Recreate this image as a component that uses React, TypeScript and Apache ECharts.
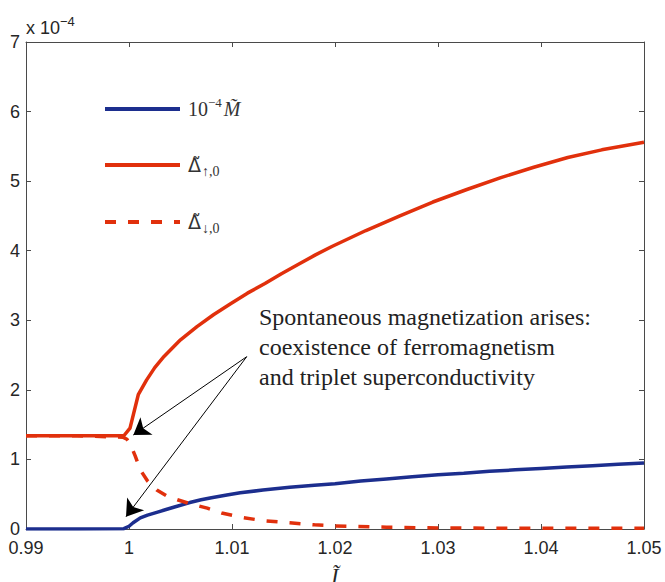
import React, { useEffect, useRef } from "react";
import * as echarts from "echarts";

// Δ↑,0 (solid red)
const upX = [0.99, 0.995, 0.9995, 1.0001, 1.0009, 1.0017, 1.0025, 1.0034, 1.005, 1.0066, 1.0082, 1.0099, 1.0115, 1.0132, 1.0148, 1.0165, 1.0181, 1.0197, 1.023, 1.0263, 1.0295, 1.0328, 1.0361, 1.0393, 1.0426, 1.0459, 1.05];
const upY = [1.34, 1.34, 1.34, 1.45, 1.93, 2.14, 2.32, 2.48, 2.72, 2.91, 3.08, 3.24, 3.39, 3.53, 3.67, 3.81, 3.94, 4.06, 4.29, 4.5, 4.7, 4.88, 5.05, 5.2, 5.34, 5.45, 5.56];

// 10^-4 M (blue)
const mX = [0.99, 0.995, 0.9995, 1.0, 1.0004, 1.0011, 1.0018, 1.0027, 1.0036, 1.0045, 1.0059, 1.007, 1.008, 1.0095, 1.0108, 1.013, 1.0156, 1.018, 1.02, 1.0225, 1.025, 1.0275, 1.03, 1.0325, 1.035, 1.0375, 1.04, 1.0425, 1.045, 1.0475, 1.05];
const mY = [0, 0, 0.005, 0.04, 0.09, 0.16, 0.2, 0.24, 0.28, 0.32, 0.38, 0.42, 0.45, 0.49, 0.52, 0.56, 0.6, 0.63, 0.65, 0.69, 0.72, 0.75, 0.78, 0.8, 0.83, 0.85, 0.87, 0.89, 0.91, 0.93, 0.95];

// Δ↓,0 (dashed red)
const dnX = [0.99, 0.995, 0.9994, 0.9998, 1.0001, 1.0006, 1.0011, 1.0018, 1.0027, 1.0036, 1.0047, 1.006, 1.0076, 1.009, 1.0108, 1.013, 1.0156, 1.018, 1.02, 1.025, 1.03, 1.035, 1.04, 1.045, 1.05];
const dnY = [1.34, 1.34, 1.32, 1.29, 1.23, 1.05, 0.85, 0.69, 0.56, 0.48, 0.42, 0.36, 0.3, 0.23, 0.17, 0.12, 0.09, 0.06, 0.045, 0.025, 0.015, 0.012, 0.01, 0.01, 0.01];

const xTicks = [0.99, 1.0, 1.01, 1.02, 1.03, 1.04, 1.05];
const yTicks = [0, 1, 2, 3, 4, 5, 6, 7];

// annotation arrow: common start and two tips (data coordinates)
const arrowStart = [1.01143, 2.477];
const arrowTips = [
  [1.00042, 1.351],
  [0.99971, 0.177],
];
const annotationLines = [
  "Spontaneous magnetization arises:",
  "coexistence of ferromagnetism",
  "and triplet superconductivity",
];

const BLUE = "#1c2e8e";
const RED = "#e1300c";
const TXT = "#262626";
const AX = "#4a4a4a";

const zip = (xs: number[], ys: number[]) => xs.map((x, i) => [x, ys[i]]);

export default function App() {
  const ref = useRef<HTMLDivElement>(null);
  useEffect(() => {
    const chart = echarts.init(ref.current!, null, { renderer: "svg" });
    const tickFont = { fontFamily: "Liberation Sans", fontSize: 18, color: TXT, lineHeight: 14 };
    const legendNames: Record<string, string> = {
      M: "{n|10}{sup|−4}{i|M̃}",
      up: "{d|Δ̃}{sub|↑,0}",
      dn: "{d|Δ̃}{sub|↓,0}",
    };
    const serif = "Liberation Serif";
    const option: any = {
      animation: false,
      backgroundColor: "#fff",
      grid: { left: 26, right: 21, top: 42, bottom: 53, containLabel: false, outerBoundsMode: "none" },
      legend: {
        orient: "vertical",
        left: 98,
        top: 91,
        itemWidth: 75,
        itemHeight: 30,
        itemGap: 32,
        data: ["M", "up", "dn"],
        itemStyle: { opacity: 0, borderWidth: 0 },
        lineStyle: { width: 4 },
        formatter: (name: string) => legendNames[name],
        textStyle: {
          color: TXT,
          padding: [0, 0, 0, 3],
          rich: {
            n: { fontFamily: serif, fontSize: 20, color: "#333", lineHeight: 26, verticalAlign: "middle" },
            d: { fontFamily: "DejaVu Sans", fontSize: 19, color: "#333", lineHeight: 26, verticalAlign: "middle" },
            i: { fontFamily: serif, fontStyle: "italic", fontSize: 20, color: "#333", lineHeight: 26, verticalAlign: "middle", padding: [0, 0, 0, 2] },
            sup: { fontFamily: serif, fontSize: 13, color: "#333", verticalAlign: "top", lineHeight: 13 },
            sub: { fontFamily: serif, fontSize: 14, color: "#333", verticalAlign: "bottom", lineHeight: 13, padding: [0, 0, 0, 1] },
          },
        },
      },
      xAxis: [
        {
          type: "value",
          min: 0.99,
          max: 1.05,
          interval: 0.01,
          position: "bottom",
          name: "Ĩ",
          nameLocation: "middle",
          nameGap: 19,
          nameTextStyle: { fontFamily: serif, fontStyle: "italic", fontSize: 22, lineHeight: 28, color: TXT, verticalAlign: "top" },
          axisLine: { show: true, onZero: false, lineStyle: { color: AX, width: 1 } },
          axisTick: { show: true, inside: true, length: 5, lineStyle: { color: AX } },
          axisLabel: {
            ...tickFont,
            margin: 12,
            formatter: (v: number) => {
              const t = xTicks.find((k) => Math.abs(k - v) < 1e-6);
              return t === undefined ? "" : String(parseFloat(t.toFixed(2)));
            },
          },
          splitLine: { show: false },
        },
        {
          type: "value",
          min: 0.99,
          max: 1.05,
          interval: 0.01,
          position: "top",
          axisLine: { show: true, onZero: false, lineStyle: { color: AX, width: 1 } },
          axisTick: { show: true, inside: true, length: 5, lineStyle: { color: AX } },
          axisLabel: { show: false },
          splitLine: { show: false },
        },
      ],
      yAxis: [
        {
          type: "value",
          min: 0,
          max: 7,
          interval: 1,
          position: "left",
          name: "{a|x 10}{b|−4}",
          nameLocation: "end",
          nameGap: 5,
          nameTextStyle: {
            align: "left",
            verticalAlign: "bottom",
            rich: {
              a: { fontFamily: "Liberation Sans", fontSize: 18, color: TXT, verticalAlign: "bottom", lineHeight: 22 },
              b: { fontFamily: "Liberation Sans", fontSize: 13, color: TXT, verticalAlign: "top", lineHeight: 14 },
            },
          },
          axisLine: { show: true, onZero: false, lineStyle: { color: AX, width: 1 } },
          axisTick: { show: true, inside: true, length: 5, lineStyle: { color: AX } },
          axisLabel: {
            ...tickFont,
            margin: 6,
            formatter: (v: number) => (yTicks.includes(Math.round(v)) ? String(Math.round(v)) : ""),
          },
          splitLine: { show: false },
        },
        {
          type: "value",
          min: 0,
          max: 7,
          interval: 1,
          position: "right",
          axisLine: { show: true, onZero: false, lineStyle: { color: AX, width: 1 } },
          axisTick: { show: true, inside: true, length: 5, lineStyle: { color: AX } },
          axisLabel: { show: false },
          splitLine: { show: false },
        },
      ],
      series: [
        {
          name: "M",
          type: "line",
          xAxisIndex: 0,
          yAxisIndex: 0,
          data: zip(mX, mY),
          symbol: "none",
          color: BLUE,
          lineStyle: { color: BLUE, width: 3.5 },
          z: 3,
          markLine: {
            silent: true,
            symbol: ["none", "arrow"],
            symbolSize: 16,
            lineStyle: { color: "#000", width: 1, type: "solid" },
            itemStyle: { color: "#000" },
            label: { show: false },
            data: arrowTips.map((t) => [{ coord: arrowStart }, { coord: t }]),
          },
        },
        {
          name: "up",
          type: "line",
          xAxisIndex: 0,
          yAxisIndex: 0,
          data: zip(upX, upY),
          symbol: "none",
          color: RED,
          lineStyle: { color: RED, width: 3.5 },
          z: 3,
        },
        {
          name: "dn",
          type: "line",
          xAxisIndex: 0,
          yAxisIndex: 0,
          data: zip(dnX, dnY),
          symbol: "none",
          color: RED,
          lineStyle: { color: RED, width: 3.5, type: [11, 12] },
          z: 4,
        },
      ],
      graphic: [
        {
          type: "text",
          left: 259,
          top: 302,
          style: {
            text: annotationLines.join("\n"),
            font: '24px "Liberation Serif"',
            lineHeight: 30,
            fill: "#222",
          },
        },
      ],
    };
    chart.setOption(option);
    return () => chart.dispose();
  }, []);
  return (
    <div
      ref={ref}
      style={{ position: "fixed", left: 0, top: 0, width: 665, height: 582, background: "#fff" }}
    />
  );
}
